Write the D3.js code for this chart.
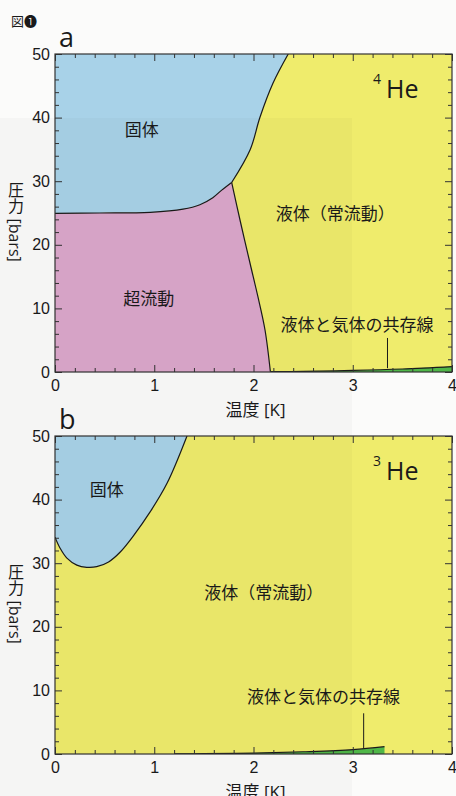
<!DOCTYPE html>
<html><head><meta charset="utf-8">
<script src="https://cdn.jsdelivr.net/npm/d3@7"></script>
<style>
html,body{margin:0;padding:0;background:#fbfbfa;}
svg{display:block;font-family:"Open Sans","Noto Sans CJK JP",sans-serif;}
</style>
</head><body>
<svg id="c" width="456" height="796"></svg>
<script>
// ---------- data ----------
const xTicks = [0, 1, 2, 3, 4];
const yTicks = [0, 10, 20, 30, 40, 50];
// 4He phase boundaries  [T (K), P (bar)]
const he4SolidSuperfluid = [[0,24.95],[0.45,25.0],[0.96,25.1],[1.29,25.6],[1.46,26.3],[1.59,27.4],[1.68,28.6],[1.78,29.8]];
const he4MeltingNormal   = [[1.78,29.8],[1.965,34.9],[2.066,40.1],[2.196,45.4],[2.35,50]];
const he4Lambda          = [[1.78,29.8],[1.864,23.9],[1.965,17.1],[2.045,11.8],[2.116,6.6],[2.17,0.05]];
const he4Vapor           = [[2.17,0.05],[2.5,0.10],[3.0,0.24],[3.5,0.47],[4.0,0.85]];
// 3He phase boundaries
const he3Melting = [[0,34.1],[0.05,32.4],[0.12,30.8],[0.22,29.7],[0.32,29.35],[0.42,29.45],[0.54,30.2],[0.66,31.8],[0.79,34.3],[0.96,38.1],[1.13,42.6],[1.33,50]];
const he3Vapor   = [[1.2,0.02],[1.5,0.05],[2.0,0.15],[2.5,0.35],[3.0,0.68],[3.32,1.15]];
// annotations (data coordinates)
const labelsA = [
  {text:"固体", T:0.874, P:37.1, anchor:"middle"},
  {text:"超流動", T:0.945, P:10.5, anchor:"middle"},
  {text:"液体（常流動）", T:2.225, P:23.9, anchor:"start"},
  {text:"液体と気体の共存線", T:3.043, P:6.45, anchor:"middle"}
];
const labelsB = [
  {text:"固体", T:0.521, P:40.57, anchor:"middle"},
  {text:"液体（常流動）", T:1.505, P:24.37, anchor:"start"},
  {text:"液体と気体の共存線", T:2.706, P:8.02, anchor:"middle"}
];
const leaderA = [[3.35,0.6],[3.35,5.35]];
const leaderB = [[3.11,0.94],[3.11,6.4]];

// ---------- setup ----------
const svg = d3.select("#c");
const x = d3.scaleLinear().domain([0,4]).range([55,452]);
const yA = d3.scaleLinear().domain([0,50]).range([372,54]);
const yB = d3.scaleLinear().domain([0,50]).range([754,436]);

const C = {blue:"#a8d2e8", pink:"#dca7cb", yellow:"#efec6c", green:"#4fb748", ink:"#1a1a1a"};

function lineGen(y){ return d3.line().x(d=>x(d[0])).y(d=>y(d[1])).curve(d3.curveCatmullRom.alpha(0.5)); }
function seg(pts,y,first){ const s = lineGen(y)(pts); return first ? s : s.replace(/^M/,"L"); }
function pt(T,P,y){ return `${x(T)},${y(P)}`; }

function panel(id, y, fills, lines, labels, leader, iso, letter){
  const g = svg.append("g");
  const clipId = "clip"+id;
  g.append("clipPath").attr("id",clipId).append("rect")
    .attr("x",x(0)).attr("y",y(50)).attr("width",x(4)-x(0)).attr("height",y(0)-y(50));
  const pg = g.append("g").attr("clip-path",`url(#${clipId})`);
  pg.append("rect").attr("x",x(0)).attr("y",y(50)).attr("width",x(4)-x(0)).attr("height",y(0)-y(50)).attr("fill",C.yellow);
  fills.forEach(f=> pg.append("path").attr("d",f.d).attr("fill",f.color));
  lines.forEach(l=> pg.append("path").attr("d",lineGen(y)(l)).attr("fill","none").attr("stroke",C.ink).attr("stroke-width",1.2));
  pg.append("path").attr("d",d3.line().x(d=>x(d[0])).y(d=>y(d[1]))(leader)).attr("stroke",C.ink).attr("stroke-width",1);

  // axes with inward ticks
  const xMinor = d3.range(0,4.0001,0.2).filter(v=>Math.abs(v-Math.round(v))>1e-6);
  const yMinor = d3.range(0,50.0001,2).filter(v=>v%10!==0);
  const tickStyle = s=>{ s.select(".domain").remove(); s.selectAll(".tick line").attr("stroke","#333").attr("stroke-width",1); };
  const fmt = d3.format("d");
  g.append("g").attr("transform",`translate(0,${y(0)})`).call(d3.axisBottom(x).tickValues(xMinor).tickSize(-4).tickFormat("")).call(tickStyle);
  g.append("g").attr("transform",`translate(0,${y(0)})`).call(d3.axisBottom(x).tickValues(xTicks).tickSize(-7).tickPadding(8).tickFormat(fmt)).call(tickStyle)
    .selectAll("text").attr("font-size",16).attr("fill",C.ink).attr("font-family",null);
  g.append("g").attr("transform",`translate(0,${y(50)})`).call(d3.axisTop(x).tickValues(xMinor).tickSize(-4).tickFormat("")).call(tickStyle);
  g.append("g").attr("transform",`translate(0,${y(50)})`).call(d3.axisTop(x).tickValues(xTicks).tickSize(-7).tickFormat("")).call(tickStyle);
  g.append("g").attr("transform",`translate(${x(0)},0)`).call(d3.axisLeft(y).tickValues(yMinor).tickSize(-4).tickFormat("")).call(tickStyle);
  g.append("g").attr("transform",`translate(${x(0)},0)`).call(d3.axisLeft(y).tickValues(yTicks).tickSize(-7).tickPadding(5).tickFormat(fmt)).call(tickStyle)
    .selectAll("text").attr("font-size",16).attr("fill",C.ink).attr("font-family",null);
  g.append("g").attr("transform",`translate(${x(4)},0)`).call(d3.axisRight(y).tickValues(yMinor).tickSize(-4).tickFormat("")).call(tickStyle);
  g.append("g").attr("transform",`translate(${x(4)},0)`).call(d3.axisRight(y).tickValues(yTicks).tickSize(-7).tickFormat("")).call(tickStyle);
  g.append("rect").attr("x",x(0)).attr("y",y(50)).attr("width",x(4)-x(0)).attr("height",y(0)-y(50))
    .attr("fill","none").attr("stroke","#333").attr("stroke-width",1.2);

  labels.forEach(l=>{
    g.append("text").attr("x",x(l.T)).attr("y",y(l.P))
      .attr("text-anchor", l.anchor)
      .attr("font-size",17).attr("fill",C.ink).attr("font-family","Noto Sans CJK JP").text(l.text);
  });
  // isotope label
  g.append("text").attr("x",x(3.205)).attr("y",y(45.3)).attr("font-size",14).attr("fill",C.ink).text(iso);
  g.append("text").attr("x",x(3.335)).attr("y",y(43.1)).attr("font-size",25).attr("fill",C.ink).text("He");
  // panel letter
  g.append("text").attr("x",x(0)+4).attr("y",y(50)-7).attr("font-size",27).attr("fill",C.ink).text(letter);
  // axis titles
  g.append("text").attr("x",x(2)+2).attr("y",y(0)+44).attr("text-anchor","middle").attr("font-size",17).attr("fill",C.ink).text("温度 [K]");
  g.append("text").attr("x",15).attr("y",(y(50)+y(0))/2+9).attr("text-anchor","middle")
    .style("writing-mode","vertical-rl").attr("font-size",16).attr("fill",C.ink).text("圧力 [bars]");
}

// Panel a fills
const fillsA = [
  {color:C.blue, d:`M${pt(0,50,yA)}` + seg(he4SolidSuperfluid,yA) + seg(he4MeltingNormal,yA) + "Z"},
  {color:C.pink, d:`M${pt(0,0,yA)}` + seg(he4SolidSuperfluid,yA) + seg(he4Lambda,yA) + `L${pt(2.17,0,yA)}Z`},
  {color:C.green, d:seg(he4Vapor,yA,true) + `L${pt(4,0,yA)}L${pt(2.17,0,yA)}Z`}
];
panel("a", yA, fillsA, [he4SolidSuperfluid, he4MeltingNormal, he4Lambda, he4Vapor], labelsA, leaderA, "4", "a");

// Panel b fills
const fillsB = [
  {color:C.blue, d:`M${pt(0,50,yB)}` + seg(he3Melting,yB) + "Z"},
  {color:C.green, d:seg(he3Vapor,yB,true) + `L${pt(3.32,0,yB)}L${pt(1.2,0,yB)}Z`}
];
panel("b", yB, fillsB, [he3Melting, he3Vapor], labelsB, leaderB, "3", "b");

// figure tag
svg.append("text").attr("x",11).attr("y",26).attr("font-size",13).attr("font-family","Noto Sans CJK JP").attr("fill",C.ink).text("図❶");

// subtle scan shading
svg.append("rect").attr("x",0).attr("y",118).attr("width",352).attr("height",678).attr("fill","#000").attr("opacity",0.025).attr("pointer-events","none");
</script>
</body></html>
